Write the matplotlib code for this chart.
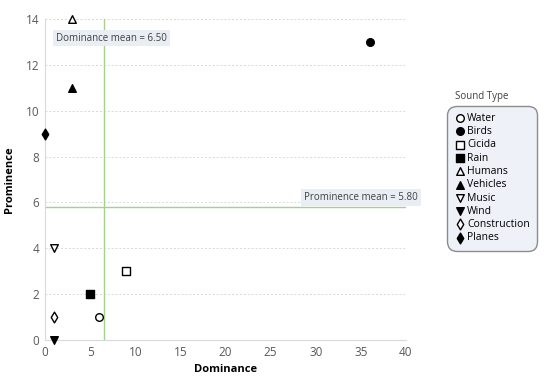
import matplotlib.pyplot as plt
import numpy as np

plt.rcParams['font.family'] = ['Open Sans', 'DejaVu Sans']

# data
sound_types = ["Water", "Birds", "Cicida", "Rain", "Humans", "Vehicles",
               "Music", "Wind", "Construction", "Planes"]
dominance = [6, 36, 9, 5, 3, 3, 1, 1, 1, 0]
prominence = [1, 13, 3, 2, 14, 11, 4, 0, 1, 9]

# marker style per sound type
markers = ["o", "o", "s", "s", "^", "^", "v", "v", "d", "d"]
filled = [False, True, False, True, False, True, False, True, False, True]

dom_mean = np.mean(dominance)
prom_mean = np.mean(prominence)

fig = plt.figure(figsize=(5.5, 3.8), dpi=100)
ax = fig.add_axes([0.082, 0.105, 0.656, 0.845])

for i, name in enumerate(sound_types):
    fc = "black" if filled[i] else "white"
    ax.scatter(dominance[i], prominence[i], marker=markers[i], s=30,
               facecolor=fc, edgecolor="black", linewidth=1.0,
               label=name, zorder=3, clip_on=False)

ax.set_xlim(0, 40)
ax.set_ylim(0, 14)
ax.set_xticks(range(0, 41, 5))
ax.set_yticks(range(0, 15, 2))
ax.yaxis.grid(True, color="#d8d8d8", linestyle=(0, (2, 2)), linewidth=0.7)
ax.set_axisbelow(True)

for s in ["top", "right"]:
    ax.spines[s].set_visible(False)
for s in ["left", "bottom"]:
    ax.spines[s].set_color("#d9d9d9")
ax.tick_params(length=0, labelsize=8.5, colors="#595959", pad=4)

ax.set_xlabel("Dominance", fontsize=8, fontweight="bold", labelpad=4)
ax.set_ylabel("Prominence", fontsize=8, fontweight="bold", labelpad=8)

# mean lines
ax.axvline(dom_mean, color="#a8d08d", linewidth=1.0, zorder=1)
ax.axhline(prom_mean, color="#a8d08d", linewidth=1.0, zorder=1)

box = dict(boxstyle="square,pad=0.3", facecolor="#e9eef4", edgecolor="none")
ax.text(7.4, 13.17, "Dominance mean = %.2f" % dom_mean, fontsize=7,
        color="#404040", va="center", ha="center", bbox=box, zorder=4)
ax.text(35.0, 6.2, "Prominence mean = %.2f" % prom_mean, fontsize=7,
        color="#404040", va="center", ha="center", bbox=box, zorder=4)

leg = ax.legend(loc="upper left", bbox_to_anchor=(0.822, 0.71),
                bbox_transform=fig.transFigure, fontsize=7.5,
                frameon=True, fancybox=True, handletextpad=0.2,
                labelspacing=0.22, borderpad=0.25, handlelength=1.0,
                scatterpoints=1, borderaxespad=0)
frame = leg.get_frame()
frame.set_facecolor("#eef1f7")
frame.set_edgecolor("#8c8c8c")
frame.set_linewidth(1.0)
frame.set_alpha(1)
frame.set_boxstyle("round,pad=0.45,rounding_size=0.9")
fig.text(0.828, 0.74, "Sound Type", fontsize=7, color="#404040")

fig.savefig("out.png", dpi=100)
